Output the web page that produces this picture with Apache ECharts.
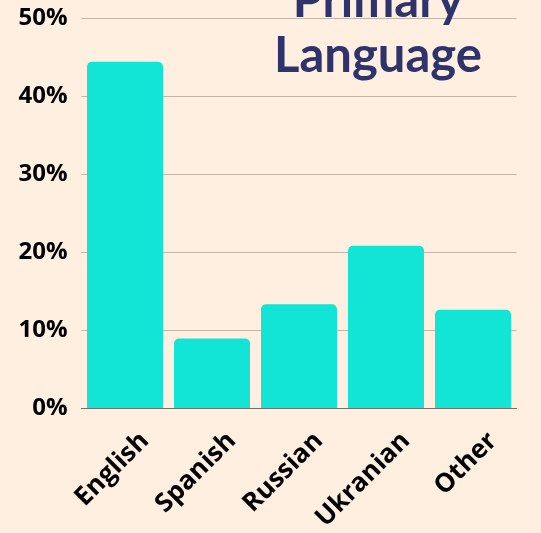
<!DOCTYPE html>
<html>
<head>
<meta charset="utf-8">
<script src="https://cdn.jsdelivr.net/npm/echarts@6/dist/echarts.min.js"></script>
<style>
  html, body { margin: 0; padding: 0; background: #feefe0; }
  #chart { width: 541px; height: 533px; }
</style>
</head>
<body>
<div id="chart"></div>
<script>
// values, in percent
const languages = ['English', 'Spanish', 'Russian', 'Ukranian', 'Other'];
const shares = [44.4, 8.9, 13.3, 20.8, 12.6];
const yTicks = [0, 10, 20, 30, 40, 50];

const chart = echarts.init(document.getElementById('chart'));

chart.setOption({
  backgroundColor: '#feefe0',
  animation: false,
  title: {
    text: 'Primary\nLanguage',
    left: 373,
    top: -31,
    textAlign: 'center',
    textStyle: {
      fontFamily: 'Lato',
      fontWeight: 'bold',
      fontSize: 49,
      lineHeight: 55,
      color: '#2e336b'
    }
  },
  grid: {
    left: 81.5,
    right: 24.5,
    top: 18,
    bottom: 125,
    containLabel: false,
    outerBoundsMode: 'none'
  },
  xAxis: {
    type: 'category',
    data: languages,
    axisTick: { show: false },
    axisLine: { lineStyle: { color: '#7a706a', width: 1 } },
    axisLabel: {
      interval: 0,
      rotate: 45,
      margin: 9,
      verticalAlign: 'top',
      lineHeight: 56,
      fontFamily: 'Open Sans',
      fontWeight: 'bold',
      fontSize: 26,
      color: '#000'
    }
  },
  yAxis: {
    type: 'value',
    min: yTicks[0],
    max: yTicks[yTicks.length - 1],
    interval: 10,
    axisLine: { show: false },
    axisTick: { show: false },
    splitLine: { lineStyle: { color: '#c4b5a8', width: 1 } },
    axisLabel: {
      margin: 14,
      fontFamily: 'Open Sans',
      fontWeight: 'bold',
      fontSize: 24,
      color: '#000',
      formatter: v => v + '%'
    }
  },
  series: [{
    type: 'bar',
    data: shares,
    barWidth: 76,
    itemStyle: {
      color: '#12e4d6',
      borderRadius: [5, 5, 0, 0]
    }
  }]
});
</script>
</body>
</html>
